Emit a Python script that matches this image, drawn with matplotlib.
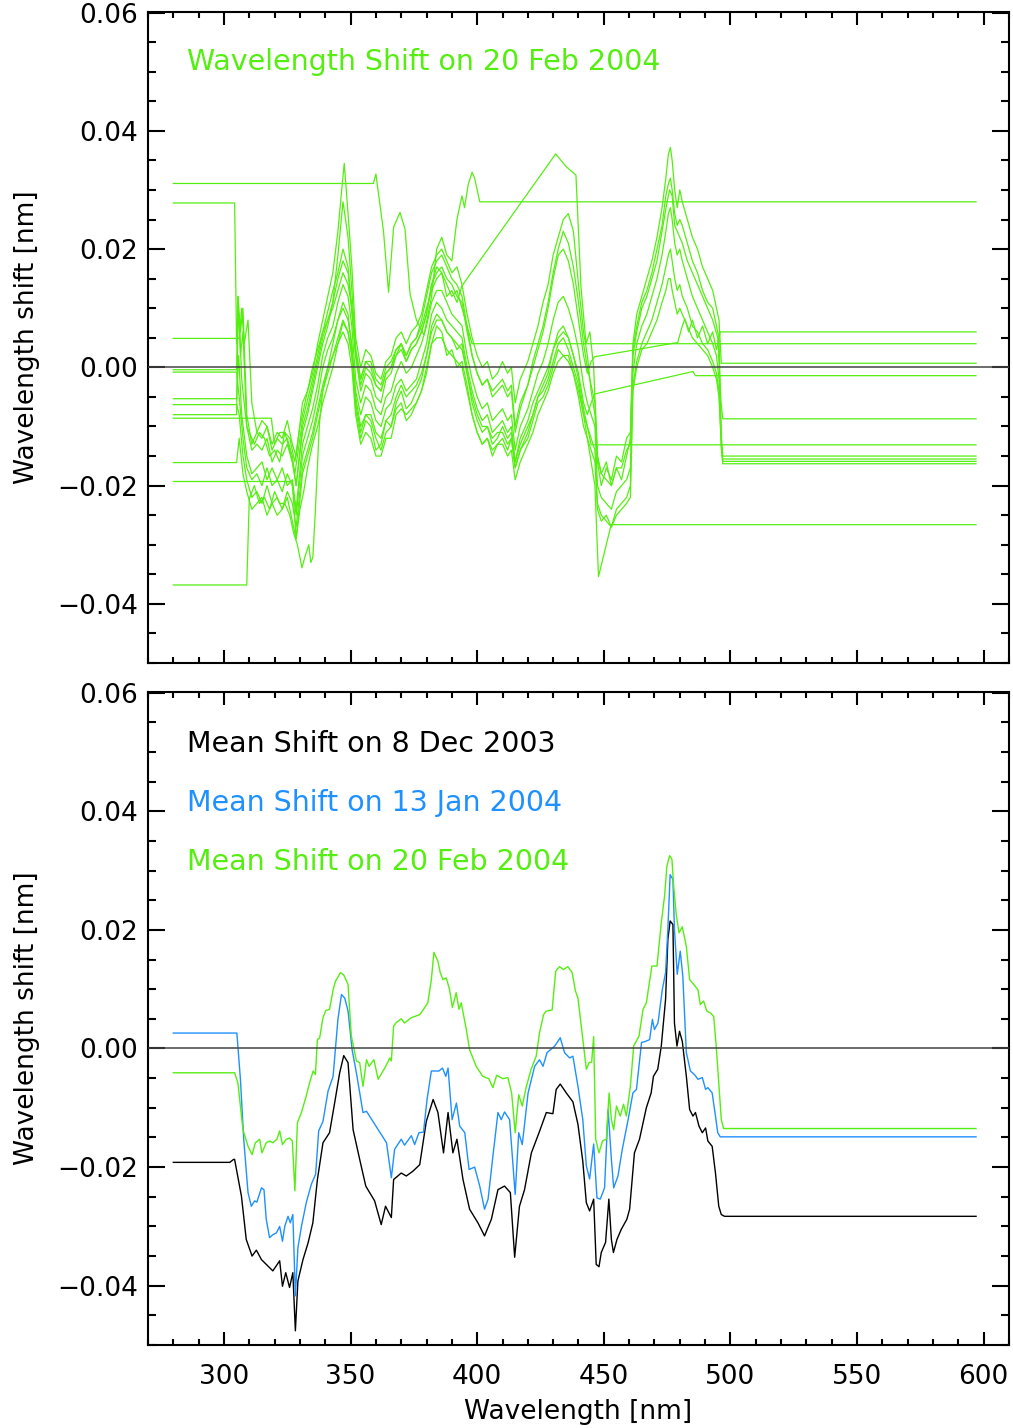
import matplotlib
matplotlib.use("Agg")
import matplotlib.pyplot as plt
from matplotlib.ticker import MultipleLocator, FuncFormatter

GREEN = "#55ee11"
BLUE = "#1e90ff"

# individual scans of 20 Feb 2004, (wavelength nm, shift nm)
scan_a = [(280, 0.0311), (359, 0.0311), (360, 0.0327), (363, 0.0230), (365, 0.0127), (367, 0.0237), (369.5, 0.0262),
          (371.5, 0.0234), (373.5, 0.0124), (376, 0.0080), (379, 0.0055), (382, 0.0120), (384, 0.0200), (386, 0.0220),
          (388, 0.0190), (390, 0.0180), (392, 0.0250), (394, 0.0290), (395, 0.0270), (396.5, 0.0310), (398, 0.0330),
          (399, 0.0320), (401, 0.0280), (597, 0.0280)]
scan_b = [(280, 0.0278), (304.2, 0.0278), (305, 0.0040), (306, 0.0090), (307, -0.0020), (309, -0.0100), (312, -0.0130),
          (314, -0.0110), (316, -0.0120), (318, -0.0150), (320, -0.0140), (322, -0.0160), (324, -0.0110), (326, -0.0140),
          (328, -0.0180), (331, -0.0090), (335, -0.0020), (339, 0.0060), (343, 0.0130), (345, 0.0160), (347, 0.0200),
          (349, 0.0170), (350, 0.0120), (352, 0.0020), (354, -0.0040), (356, -0.0010), (358, -0.0020), (360, -0.0050),
          (362, -0.0060), (364, -0.0020), (366, -0.0010), (368, 0.0020), (370, 0.0040), (372, 0.0010), (374, 0.0030),
          (376, 0.0040), (378, 0.0060), (380, 0.0090), (382, 0.0140), (384, 0.0170), (386, 0.0160), (388, 0.0120),
          (390, 0.0130), (392, 0.0110), (394, 0.0138), (431, 0.0361), (435, 0.0340), (439, 0.0325), (441, 0.0135),
          (443, 0.0040), (444.5, 0.0060), (446, 0.0000), (447.5, -0.0150), (449, -0.0180), (451, -0.0160), (453, -0.0200),
          (455, -0.0170), (457, -0.0190), (459, -0.0150), (460.5, -0.0120), (461.5, 0.0020), (463, 0.0060), (465, 0.0100),
          (467, 0.0120), (469, 0.0150), (471, 0.0180), (473, 0.0230), (475, 0.0280), (476, 0.0300), (477, 0.0290),
          (478, 0.0240), (480, 0.0220), (481, 0.0210), (483, 0.0180), (485, 0.0160), (487, 0.0140), (489, 0.0120),
          (491, 0.0100), (493, 0.0080), (495, 0.0050), (496.3, -0.0060), (497, -0.0087), (597, -0.0087)]
scan_c = [(280, 0.0049), (306, 0.0049), (307, 0.0100), (308, 0.0040), (309.5, 0.0080), (311, -0.0060), (313, -0.0110),
          (315, -0.0090), (317, -0.0100), (319, -0.0130), (321, -0.0110), (323, -0.0120), (325, -0.0090), (327, -0.0130),
          (328.5, -0.0150), (331, -0.0060), (333, -0.0040), (335, 0.0000), (337, 0.0030), (339, 0.0060), (341, 0.0080),
          (343, 0.0100), (345, 0.0130), (347, 0.0160), (349, 0.0140), (350.5, 0.0100), (352, 0.0030), (354, -0.0020),
          (356, 0.0010), (358, 0.0010), (360, -0.0020), (362, -0.0030), (364, 0.0000), (366, 0.0010), (368, 0.0030),
          (370, 0.0040), (372, 0.0020), (374, 0.0040), (376, 0.0050), (378, 0.0070), (380, 0.0100), (382, 0.0130),
          (384, 0.0150), (386, 0.0160), (388, 0.0140), (390, 0.0120), (392, 0.0130), (394, 0.0100), (396, 0.0070),
          (398, 0.0040), (401, 0.0040), (597, 0.0040)]
scan_d = [(280, -0.0193), (327, -0.0193), (328.5, -0.0290), (330, -0.0240), (331.5, -0.0210), (333, -0.0170),
          (335, -0.0130), (337, -0.0100), (339, -0.0060), (341, -0.0030), (343, 0.0000), (345, 0.0040), (347, 0.0076),
          (349, 0.0060), (350.5, 0.0020), (352, -0.0070), (354, -0.0120), (356, -0.0090), (358, -0.0100), (360, -0.0140),
          (362, -0.0130), (364, -0.0090), (366, -0.0100), (368, -0.0070), (370, -0.0060), (372, -0.0090), (374, -0.0080),
          (376, -0.0060), (378, -0.0040), (380, -0.0010), (382, 0.0040), (384, 0.0070), (386, 0.0060), (388, 0.0020),
          (390, 0.0030), (392, 0.0000), (394, 0.0010), (396, -0.0030), (398, -0.0080), (400, -0.0110), (402, -0.0130),
          (404, -0.0120), (406, -0.0150), (408, -0.0130), (410, -0.0120), (412, -0.0140), (413.5, -0.0120), (415, -0.0170),
          (417, -0.0140), (420, -0.0120), (422, -0.0090), (424, -0.0060), (426, -0.0050), (428, -0.0030), (430, 0.0000),
          (432, 0.0030), (434, 0.0020), (436, 0.0020), (438, -0.0010), (440, -0.0040), (442, -0.0080), (443.5, -0.0100),
          (445, -0.0131), (597, -0.0131)]
scan_e = [(280, -0.0004), (305, -0.0004), (305.5, 0.0120), (306.5, 0.0060), (307.5, 0.0100), (309, -0.0080),
          (311, -0.0130), (313, -0.0110), (315, -0.0120), (317, -0.0100), (319, -0.0140), (321, -0.0120), (323, -0.0130),
          (325, -0.0120), (327, -0.0150), (328.5, -0.0200), (331, -0.0100), (333, -0.0070), (335, -0.0030), (337, 0.0010),
          (339, 0.0050), (341, 0.0080), (343, 0.0110), (345, 0.0150), (347, 0.0180), (349, 0.0160), (350.5, 0.0100),
          (352, 0.0020), (354, -0.0030), (356, 0.0000), (358, -0.0010), (360, -0.0030), (362, -0.0040), (364, -0.0010),
          (366, 0.0000), (368, 0.0020), (370, 0.0030), (372, 0.0010), (374, 0.0030), (376, 0.0040), (378, 0.0060),
          (380, 0.0090), (382, 0.0140), (384, 0.0160), (386, 0.0170), (388, 0.0150), (390, 0.0140), (392, 0.0120),
          (394, 0.0110), (396, 0.0060), (398, 0.0020), (400, -0.0010), (402, -0.0030), (404, -0.0020), (406, -0.0040),
          (408, -0.0030), (410, -0.0020), (412, -0.0040), (413.5, -0.0030), (415, -0.0100), (417, -0.0060), (420, -0.0030),
          (422, 0.0000), (424, 0.0030), (426, 0.0060), (428, 0.0100), (430, 0.0150), (432, 0.0190), (434, 0.0200),
          (436, 0.0180), (438, 0.0140), (440, 0.0080), (442, 0.0020), (443.5, -0.0010), (445, 0.0010), (446.4, 0.0018),
          (479.2, 0.0042), (481, 0.0070), (482, 0.0082), (483.5, 0.0060), (485, 0.0080), (487, 0.0050), (489, 0.0070),
          (491, 0.0040), (493, 0.0060), (494.5, 0.0030), (496, 0.0060), (597, 0.0060)]
scan_f = [(280, -0.0008), (305, -0.0008), (306, -0.0050), (307.5, -0.0120), (309, -0.0170), (311, -0.0190),
          (313, -0.0180), (315, -0.0200), (317, -0.0170), (319, -0.0200), (321, -0.0190), (323, -0.0210), (325, -0.0180),
          (327, -0.0200), (328.5, -0.0250), (331, -0.0150), (333, -0.0120), (335, -0.0090), (337, -0.0050), (339, 0.0000),
          (341, 0.0030), (343, 0.0050), (345, 0.0080), (347, 0.0110), (349, 0.0090), (350.5, 0.0030), (352, -0.0040),
          (354, -0.0080), (356, -0.0050), (358, -0.0060), (360, -0.0090), (362, -0.0100), (364, -0.0070), (366, -0.0060),
          (368, -0.0030), (370, -0.0020), (372, -0.0040), (374, -0.0030), (376, -0.0020), (378, 0.0010), (380, 0.0040),
          (382, 0.0090), (384, 0.0110), (386, 0.0100), (388, 0.0080), (390, 0.0070), (392, 0.0060), (394, 0.0050),
          (396, 0.0000), (398, -0.0040), (400, -0.0070), (402, -0.0090), (404, -0.0080), (406, -0.0110), (408, -0.0100),
          (410, -0.0090), (412, -0.0110), (413.5, -0.0100), (415, -0.0160), (417, -0.0120), (420, -0.0090), (422, -0.0060),
          (424, -0.0040), (426, -0.0020), (428, 0.0000), (430, 0.0030), (432, 0.0060), (434, 0.0070), (436, 0.0050),
          (438, 0.0020), (440, -0.0010), (442, -0.0060), (443.5, -0.0080), (445, -0.0060), (446.4, -0.0045),
          (485.2, -0.0007), (486.2, -0.0014), (597, -0.0014)]
scan_g = [(280, -0.0368), (309, -0.0368), (310, -0.0222), (312, -0.0200), (314, -0.0230), (316, -0.0220), (318, -0.0240),
          (320, -0.0210), (322, -0.0230), (324, -0.0230), (326, -0.0250), (327.5, -0.0280), (329, -0.0300),
          (330.8, -0.0339), (332, -0.0320), (333.5, -0.0300), (334.3, -0.0330), (335.1, -0.0321), (336, -0.0250),
          (337.7, -0.0095), (339, -0.0040), (341, 0.0000), (343, 0.0040), (345, 0.0080), (347, 0.0100), (349, 0.0080),
          (350.5, 0.0040), (352, -0.0050), (354, -0.0100), (356, -0.0080), (358, -0.0090), (360, -0.0120), (362, -0.0140),
          (364, -0.0110), (366, -0.0100), (368, -0.0060), (370, -0.0040), (372, -0.0070), (374, -0.0060), (376, -0.0040),
          (378, -0.0020), (380, 0.0020), (382, 0.0070), (384, 0.0090), (386, 0.0080), (388, 0.0060), (390, 0.0050),
          (392, 0.0030), (394, 0.0040), (396, -0.0010), (398, -0.0060), (400, -0.0090), (402, -0.0110), (404, -0.0100),
          (406, -0.0130), (408, -0.0120), (410, -0.0100), (412, -0.0120), (413.5, -0.0110), (415, -0.0160), (417, -0.0130),
          (420, -0.0100), (422, -0.0080), (424, -0.0050), (426, -0.0040), (428, -0.0020), (430, 0.0010), (432, 0.0040),
          (434, 0.0050), (436, 0.0030), (438, 0.0000), (440, -0.0030), (442, -0.0080), (443.5, -0.0120), (445, -0.0160),
          (446.5, -0.0200), (447.9, -0.0354), (452.9, -0.0266), (597, -0.0266)]
scan_h = [(280, -0.0086), (318.7, -0.0086), (320, -0.0130), (322, -0.0110), (324, -0.0110), (326, -0.0120),
          (328, -0.0160), (330, -0.0100), (331.5, -0.0070), (333, -0.0040), (335, -0.0010), (337, 0.0040), (339, 0.0080),
          (341, 0.0120), (343, 0.0160), (345, 0.0230), (346.5, 0.0300), (347.5, 0.0345), (349, 0.0260), (350.5, 0.0170),
          (352, 0.0050), (354, 0.0000), (356, 0.0030), (358, 0.0020), (360, -0.0010), (362, -0.0020), (364, 0.0010),
          (366, 0.0020), (368, 0.0050), (370, 0.0060), (372, 0.0040), (374, 0.0060), (376, 0.0070), (378, 0.0090),
          (380, 0.0130), (382, 0.0170), (384, 0.0190), (386, 0.0200), (388, 0.0180), (390, 0.0160), (392, 0.0170),
          (394, 0.0140), (396, 0.0090), (398, 0.0050), (400, 0.0020), (402, 0.0000), (404, 0.0010), (406, -0.0020),
          (408, -0.0010), (410, 0.0010), (412, -0.0010), (413.5, 0.0000), (415, -0.0060), (417, -0.0020), (420, 0.0010),
          (422, 0.0040), (424, 0.0070), (426, 0.0110), (428, 0.0140), (430, 0.0190), (432, 0.0220), (434, 0.0250),
          (436, 0.0260), (438, 0.0230), (440, 0.0140), (442, 0.0060), (443.5, 0.0020), (445, -0.0040), (446.5, -0.0080),
          (447.5, -0.0160), (449, -0.0200), (451, -0.0170), (453, -0.0190), (455, -0.0150), (457, -0.0160), (459, -0.0120),
          (460.5, -0.0110), (461.5, 0.0040), (463, 0.0090), (465, 0.0120), (467, 0.0150), (469, 0.0180), (471, 0.0220),
          (473, 0.0270), (474.5, 0.0320), (475.5, 0.0360), (476.3, 0.0372), (477, 0.0350), (478, 0.0300), (479, 0.0270),
          (480, 0.0300), (481, 0.0280), (483, 0.0250), (485, 0.0220), (487, 0.0200), (489, 0.0170), (491, 0.0150),
          (493, 0.0130), (494.5, 0.0100), (495.5, 0.0080), (496.4, 0.0007), (597, 0.0007)]
scan_i = [(280, -0.0053), (305, -0.0053), (305.8, 0.0020), (307, -0.0080), (309, -0.0150), (311, -0.0180),
          (313, -0.0170), (315, -0.0160), (317, -0.0190), (319, -0.0170), (321, -0.0190), (323, -0.0170), (325, -0.0200),
          (327, -0.0190), (328.5, -0.0240), (331, -0.0130), (333, -0.0100), (335, -0.0070), (337, -0.0030), (339, 0.0020),
          (341, 0.0050), (343, 0.0070), (345, 0.0110), (347, 0.0140), (349, 0.0120), (350.5, 0.0070), (352, -0.0020),
          (354, -0.0060), (356, -0.0030), (358, -0.0040), (360, -0.0070), (362, -0.0080), (364, -0.0050), (366, -0.0040),
          (368, -0.0010), (370, 0.0010), (372, -0.0010), (374, 0.0000), (376, 0.0020), (378, 0.0040), (380, 0.0070),
          (382, 0.0110), (384, 0.0130), (386, 0.0130), (388, 0.0110), (390, 0.0090), (392, 0.0080), (394, 0.0070),
          (396, 0.0020), (398, -0.0020), (400, -0.0050), (402, -0.0070), (404, -0.0060), (406, -0.0090), (408, -0.0080),
          (410, -0.0070), (412, -0.0090), (413.5, -0.0080), (415, -0.0140), (417, -0.0100), (420, -0.0070), (422, -0.0040),
          (424, -0.0010), (426, 0.0010), (428, 0.0040), (430, 0.0080), (432, 0.0110), (434, 0.0120), (436, 0.0100),
          (438, 0.0070), (440, 0.0030), (442, -0.0030), (443.5, -0.0060), (445, -0.0080), (446.5, -0.0100),
          (447.5, -0.0200), (449, -0.0220), (451, -0.0230), (453, -0.0240), (455, -0.0210), (457, -0.0200), (459, -0.0190),
          (460.5, -0.0170), (461.5, -0.0010), (463, 0.0040), (465, 0.0070), (467, 0.0090), (469, 0.0120), (471, 0.0150),
          (473, 0.0190), (474.5, 0.0230), (475.5, 0.0260), (476.3, 0.0270), (477, 0.0250), (478, 0.0210), (479, 0.0190),
          (480, 0.0200), (481, 0.0180), (483, 0.0150), (485, 0.0120), (487, 0.0100), (489, 0.0080), (491, 0.0060),
          (493, 0.0040), (494.5, 0.0020), (495.5, -0.0020), (496.5, -0.0120), (497, -0.0150), (597, -0.0150)]
scan_j = [(280, -0.0063), (305, -0.0063), (306, -0.0080), (307.5, -0.0150), (309, -0.0190), (311, -0.0220),
          (313, -0.0210), (315, -0.0230), (317, -0.0200), (319, -0.0230), (321, -0.0220), (323, -0.0240), (325, -0.0210),
          (327, -0.0230), (328.5, -0.0270), (331, -0.0170), (333, -0.0140), (335, -0.0110), (337, -0.0070), (339, -0.0030),
          (341, 0.0000), (343, 0.0020), (345, 0.0050), (347, 0.0080), (349, 0.0060), (350.5, 0.0020), (352, -0.0060),
          (354, -0.0110), (356, -0.0080), (358, -0.0080), (360, -0.0110), (362, -0.0120), (364, -0.0090), (366, -0.0080),
          (368, -0.0050), (370, -0.0030), (372, -0.0050), (374, -0.0040), (376, -0.0030), (378, -0.0010), (380, 0.0020),
          (382, 0.0060), (384, 0.0080), (386, 0.0080), (388, 0.0060), (390, 0.0050), (392, 0.0040), (394, 0.0030),
          (396, -0.0010), (398, -0.0050), (400, -0.0080), (402, -0.0100), (404, -0.0100), (406, -0.0120), (408, -0.0110),
          (410, -0.0110), (412, -0.0130), (413.5, -0.0120), (415, -0.0170), (417, -0.0140), (420, -0.0110), (422, -0.0080),
          (424, -0.0050), (426, -0.0030), (428, -0.0010), (430, 0.0030), (432, 0.0050), (434, 0.0060), (436, 0.0050),
          (438, 0.0020), (440, -0.0020), (442, -0.0070), (443.5, -0.0100), (445, -0.0120), (446.5, -0.0140),
          (447.5, -0.0230), (449, -0.0250), (451, -0.0260), (453, -0.0270), (455, -0.0240), (457, -0.0230), (459, -0.0220),
          (460.5, -0.0200), (461.5, -0.0030), (463, 0.0010), (465, 0.0040), (467, 0.0060), (469, 0.0080), (471, 0.0110),
          (473, 0.0140), (474.5, 0.0170), (475.5, 0.0190), (476.3, 0.0200), (477, 0.0180), (478, 0.0150), (479, 0.0130),
          (480, 0.0140), (481, 0.0120), (483, 0.0100), (485, 0.0070), (487, 0.0060), (489, 0.0040), (491, 0.0030),
          (493, 0.0010), (494.5, -0.0010), (495.5, -0.0040), (496.5, -0.0140), (497, -0.0159), (597, -0.0159)]
scan_k = [(280, -0.0080), (305, -0.0080), (305.6, 0.0120), (306.5, 0.0020), (307.5, 0.0060), (309, -0.0100),
          (311, -0.0140), (313, -0.0130), (315, -0.0140), (317, -0.0120), (319, -0.0160), (321, -0.0140), (323, -0.0150),
          (325, -0.0130), (327, -0.0160), (328.5, -0.0200), (331, -0.0110), (333, -0.0080), (335, -0.0040), (337, 0.0000),
          (339, 0.0040), (341, 0.0070), (343, 0.0110), (345, 0.0190), (347, 0.0280), (349, 0.0220), (350.5, 0.0130),
          (352, 0.0030), (354, -0.0020), (356, 0.0010), (358, 0.0000), (360, -0.0030), (362, -0.0040), (364, -0.0010),
          (366, 0.0000), (368, 0.0030), (370, 0.0040), (372, 0.0020), (374, 0.0040), (376, 0.0050), (378, 0.0080),
          (380, 0.0120), (382, 0.0160), (384, 0.0180), (386, 0.0190), (388, 0.0170), (390, 0.0150), (392, 0.0140),
          (394, 0.0120), (396, 0.0070), (398, 0.0020), (400, -0.0010), (402, -0.0030), (404, -0.0020), (406, -0.0050),
          (408, -0.0040), (410, -0.0030), (412, -0.0050), (413.5, -0.0040), (415, -0.0110), (417, -0.0070), (420, -0.0030),
          (422, 0.0010), (424, 0.0040), (426, 0.0070), (428, 0.0110), (430, 0.0160), (432, 0.0200), (434, 0.0230),
          (436, 0.0210), (438, 0.0170), (440, 0.0110), (442, 0.0040), (443.5, 0.0000), (445, -0.0030), (446.5, -0.0060),
          (447.5, -0.0150), (449, -0.0180), (451, -0.0190), (453, -0.0200), (455, -0.0170), (457, -0.0170), (459, -0.0140),
          (460.5, -0.0130), (461.5, 0.0030), (463, 0.0070), (465, 0.0110), (467, 0.0130), (469, 0.0160), (471, 0.0200),
          (473, 0.0240), (474.5, 0.0290), (475.5, 0.0310), (476.3, 0.0320), (477, 0.0300), (478, 0.0260), (479, 0.0240),
          (480, 0.0250), (481, 0.0240), (483, 0.0210), (485, 0.0180), (487, 0.0160), (489, 0.0130), (491, 0.0110),
          (493, 0.0100), (494.5, 0.0070), (495.5, 0.0050), (496.5, -0.0140), (497, -0.0163), (597, -0.0163)]
scan_l = [(280, -0.0161), (305, -0.0161), (306, -0.0120), (307.5, -0.0180), (309, -0.0210), (311, -0.0240),
          (313, -0.0230), (315, -0.0220), (317, -0.0250), (319, -0.0230), (321, -0.0250), (323, -0.0240), (325, -0.0220),
          (327, -0.0260), (328.5, -0.0290), (331, -0.0180), (333, -0.0150), (335, -0.0120), (337, -0.0080), (339, -0.0040),
          (341, -0.0010), (343, 0.0020), (345, 0.0040), (347, 0.0060), (349, 0.0040), (350.5, 0.0000), (352, -0.0080),
          (354, -0.0130), (356, -0.0110), (358, -0.0120), (360, -0.0150), (362, -0.0150), (364, -0.0120), (366, -0.0120),
          (368, -0.0080), (370, -0.0070), (372, -0.0080), (374, -0.0070), (376, -0.0060), (378, -0.0040), (380, 0.0000),
          (382, 0.0040), (384, 0.0050), (386, 0.0050), (388, 0.0030), (390, 0.0020), (392, 0.0010), (394, 0.0000),
          (396, -0.0040), (398, -0.0080), (400, -0.0110), (402, -0.0130), (404, -0.0120), (406, -0.0140), (408, -0.0130),
          (410, -0.0130), (412, -0.0150), (413.5, -0.0140), (415, -0.0190), (417, -0.0160), (420, -0.0130), (422, -0.0110),
          (424, -0.0080), (426, -0.0060), (428, -0.0040), (430, -0.0010), (432, 0.0010), (434, 0.0020), (436, 0.0010),
          (438, -0.0010), (440, -0.0050), (442, -0.0100), (443.5, -0.0120), (445, -0.0140), (446.5, -0.0160),
          (447.5, -0.0240), (449, -0.0260), (451, -0.0250), (453, -0.0270), (455, -0.0250), (457, -0.0240), (459, -0.0230),
          (460.5, -0.0220), (461.5, -0.0040), (463, 0.0000), (465, 0.0030), (467, 0.0040), (469, 0.0060), (471, 0.0080),
          (473, 0.0110), (474.5, 0.0130), (475.5, 0.0150), (476.3, 0.0150), (477, 0.0130), (478, 0.0110), (479, 0.0090),
          (480, 0.0100), (481, 0.0090), (483, 0.0070), (485, 0.0050), (487, 0.0040), (489, 0.0030), (491, 0.0020),
          (493, 0.0000), (494.5, -0.0020), (495.5, -0.0050), (496.5, -0.0140), (497, -0.0155), (597, -0.0155)]
feb_scans = [scan_a, scan_b, scan_c, scan_d, scan_e, scan_f, scan_g, scan_h, scan_i, scan_j, scan_k, scan_l]

# mean shift, 8 Dec 2003
dec_wl = [280, 302.3, 303.8, 304.2, 306.9, 308.8, 311.1, 312.8, 314.8, 316.7, 319.3, 322.0, 323.1, 324.4, 325.9, 327.2,
          328.2, 329.2, 331.2, 333.2, 335.1, 336.9, 339.1, 341.7, 343.7, 345.7, 347.3, 349.0, 351.0, 353.6, 356.0, 359.5,
          362.1, 363.8, 366.1, 367.0, 370.0, 372.0, 374.6, 377.3, 379.9, 382.6, 384.5, 386.7, 388.5, 390.4, 392.0, 394.4,
          397.0, 400.3, 402.9, 405.6, 408.2, 410.8, 413.1, 414.8, 416.7, 418.7, 421.4, 424.6, 427.3, 429.9, 431.2, 432.8,
          435.2, 437.8, 439.8, 441.7, 443.1, 444.4, 446.0, 447.0, 448.1, 449.0, 450.7, 452.0, 453.0, 453.8, 455.2, 456.9,
          459.1, 460.2, 462.1, 464.1, 466.8, 468.7, 469.6, 471.3, 472.7, 474.4, 475.3, 476.2, 477.3, 477.9, 478.9, 479.9,
          481.0, 482.6, 483.9, 485.2, 486.2, 487.6, 488.9, 490.2, 491.1, 492.8, 494.1, 495.4, 496.4, 497.7, 597]
dec_shift = [-0.0192, -0.0192, -0.0187, -0.0187, -0.0249, -0.0322, -0.0350, -0.0340, -0.0356, -0.0364, -0.0375, -0.0358,
             -0.0401, -0.0378, -0.0403, -0.0378, -0.0476, -0.0392, -0.0356, -0.0328, -0.0294, -0.0221, -0.0159, -0.0142,
             -0.0092, -0.0041, -0.0012, -0.0024, -0.0137, -0.0187, -0.0232, -0.0257, -0.0297, -0.0266, -0.0285, -0.0221,
             -0.0210, -0.0215, -0.0207, -0.0196, -0.0123, -0.0086, -0.0108, -0.0176, -0.0108, -0.0176, -0.0153, -0.0221,
             -0.0271, -0.0294, -0.0316, -0.0288, -0.0238, -0.0232, -0.0243, -0.0352, -0.0266, -0.0238, -0.0176, -0.0140,
             -0.0108, -0.0110, -0.0069, -0.0060, -0.0075, -0.0090, -0.0128, -0.0190, -0.0260, -0.0274, -0.0254, -0.0364,
             -0.0368, -0.0344, -0.0327, -0.0254, -0.0322, -0.0344, -0.0322, -0.0305, -0.0288, -0.0271, -0.0176, -0.0153,
             -0.0100, -0.0075, -0.0047, -0.0035, 0.0004, 0.0083, 0.0184, 0.0215, 0.0209, 0.0043, 0.0004, 0.0029, 0.0012,
             -0.0047, -0.0103, -0.0114, -0.0108, -0.0131, -0.0142, -0.0134, -0.0156, -0.0165, -0.0210, -0.0266, -0.0280,
             -0.0283, -0.0283]

# mean shift, 13 Jan 2004
jan_wl = [280, 305.1, 306.5, 307.8, 309.5, 310.8, 312.1, 313.0, 314.8, 315.8, 316.7, 318.0, 319.3, 320.7, 322.0, 323.1,
          324.0, 325.3, 326.2, 327.2, 328.2, 329.2, 330.6, 332.5, 334.5, 336.2, 337.4, 339.1, 341.1, 343.1, 345.0, 346.4,
          347.7, 349.0, 350.6, 352.3, 354.9, 356.3, 364.2, 366.1, 367.4, 370.0, 371.3, 374.0, 375.3, 377.0, 378.8, 380.2,
          381.9, 384.9, 386.3, 387.6, 388.5, 390.1, 391.8, 393.1, 395.1, 396.8, 399.0, 401.0, 402.9, 404.3, 406.2, 408.2,
          409.5, 410.8, 412.8, 415.0, 416.4, 417.8, 420.1, 422.7, 424.6, 426.0, 427.6, 430.6, 432.8, 434.5, 436.5, 437.8,
          439.8, 441.7, 443.1, 444.4, 446.0, 447.3, 448.6, 450.3, 451.7, 453.0, 453.9, 455.6, 457.3, 459.6, 461.5, 462.9,
          464.9, 466.5, 468.1, 469.2, 470.0, 471.4, 473.1, 474.4, 475.3, 476.2, 477.3, 477.9, 479.0, 480.2, 481.2, 482.6,
          484.2, 485.8, 487.2, 488.9, 490.2, 491.1, 492.8, 494.1, 495.0, 496.0, 597]
jan_shift = [0.0026, 0.0026, -0.0052, -0.0153, -0.0243, -0.0266, -0.0257, -0.0259, -0.0235, -0.0238, -0.0288, -0.0319,
             -0.0314, -0.0311, -0.0300, -0.0325, -0.0300, -0.0283, -0.0294, -0.0280, -0.0417, -0.0336, -0.0300, -0.0260,
             -0.0229, -0.0212, -0.0139, -0.0123, -0.0072, -0.0047, 0.0049, 0.0091, 0.0085, 0.0063, -0.0002, -0.0041,
             -0.0108, -0.0106, -0.0159, -0.0218, -0.0170, -0.0153, -0.0163, -0.0147, -0.0162, -0.0142, -0.0141, -0.0086,
             -0.0038, -0.0038, -0.0033, -0.0047, -0.0033, -0.0120, -0.0092, -0.0131, -0.0142, -0.0204, -0.0200, -0.0232,
             -0.0271, -0.0254, -0.0182, -0.0108, -0.0120, -0.0107, -0.0120, -0.0246, -0.0142, -0.0162, -0.0075, -0.0030,
             -0.0019, -0.0030, -0.0007, 0.0004, 0.0018, -0.0007, -0.0016, -0.0013, -0.0064, -0.0120, -0.0198, -0.0220,
             -0.0161, -0.0252, -0.0254, -0.0235, -0.0103, -0.0187, -0.0235, -0.0215, -0.0170, -0.0120, -0.0075, -0.0069,
             0.0010, 0.0012, 0.0015, 0.0049, 0.0032, 0.0043, 0.0099, 0.0128, 0.0201, 0.0293, 0.0285, 0.0201, 0.0125,
             0.0164, 0.0122, -0.0007, -0.0038, -0.0044, -0.0052, -0.0049, -0.0069, -0.0066, -0.0075, -0.0114, -0.0142,
             -0.0149, -0.0149]

# mean shift, 20 Feb 2004
feb_wl = [280, 304.2, 305.5, 307.5, 309.5, 311.1, 312.4, 314.1, 315.0, 316.7, 318.0, 319.3, 320.9, 322.0, 323.1, 324.6,
          325.9, 327.0, 328.0, 329.0, 330.6, 332.5, 333.8, 335.2, 336.1, 336.9, 337.8, 339.1, 340.2, 341.7, 343.1, 344.0,
          346.0, 347.3, 349.0, 350.3, 352.3, 353.6, 354.9, 356.3, 357.3, 359.2, 360.9, 363.5, 365.5, 366.1, 367.0, 368.1,
          370.0, 371.3, 374.0, 377.3, 378.8, 380.5, 381.9, 382.9, 384.5, 385.4, 386.5, 387.8, 389.1, 390.2, 391.7, 392.8,
          393.7, 395.7, 397.0, 399.6, 402.2, 404.6, 406.2, 407.7, 410.1, 412.1, 413.6, 415.0, 416.4, 417.8, 419.3, 421.3,
          423.3, 424.6, 426.2, 427.3, 429.6, 431.0, 432.5, 434.1, 435.8, 437.5, 438.8, 439.8, 441.1, 442.2, 443.1, 444.2,
          445.2, 446.0, 446.8, 448.1, 449.5, 451.0, 452.1, 453.0, 453.9, 455.0, 456.5, 457.8, 458.9, 460.5, 461.8, 463.9,
          465.5, 466.8, 469.0, 471.0, 472.7, 474.0, 474.9, 476.0, 476.9, 477.6, 478.6, 479.7, 481.0, 482.6, 483.9, 485.5,
          487.2, 488.1, 489.4, 490.7, 492.1, 493.4, 494.4, 495.5, 496.4, 497.3, 597]
feb_shift = [-0.0041, -0.0041, -0.0058, -0.0137, -0.0165, -0.0179, -0.0159, -0.0153, -0.0176, -0.0159, -0.0156, -0.0159,
             -0.0153, -0.0139, -0.0162, -0.0153, -0.0151, -0.0156, -0.0240, -0.0125, -0.0108, -0.0080, -0.0058, -0.0038,
             -0.0044, 0.0015, 0.0018, 0.0052, 0.0064, 0.0066, 0.0099, 0.0113, 0.0128, 0.0124, 0.0108, 0.0021, -0.0021,
             -0.0024, -0.0064, -0.0019, -0.0030, -0.0019, -0.0052, -0.0033, -0.0016, -0.0021, 0.0038, 0.0044, 0.0050,
             0.0043, 0.0052, 0.0057, 0.0066, 0.0077, 0.0116, 0.0162, 0.0147, 0.0128, 0.0116, 0.0119, 0.0099, 0.0069,
             0.0094, 0.0066, 0.0077, 0.0032, -0.0002, -0.0030, -0.0047, -0.0051, -0.0066, -0.0045, -0.0051, -0.0049,
             -0.0075, -0.0142, -0.0078, -0.0097, -0.0066, -0.0035, -0.0013, 0.0026, 0.0057, 0.0063, 0.0065, 0.0130,
             0.0138, 0.0133, 0.0138, 0.0128, 0.0097, 0.0085, 0.0038, -0.0002, -0.0035, -0.0024, -0.0023, 0.0020, -0.0153,
             -0.0176, -0.0156, -0.0153, -0.0075, -0.0120, -0.0137, -0.0097, -0.0114, -0.0094, -0.0114, -0.0064, 0.0004,
             0.0021, 0.0066, 0.0077, 0.0139, 0.0139, 0.0212, 0.0257, 0.0307, 0.0325, 0.0319, 0.0274, 0.0226, 0.0195,
             0.0205, 0.0172, 0.0116, 0.0108, 0.0099, 0.0074, 0.0080, 0.0063, 0.0060, 0.0054, 0.0004, -0.0064, -0.0120,
             -0.0135, -0.0135]

mean_labels = ["Mean Shift on 8 Dec 2003", "Mean Shift on 13 Jan 2004", "Mean Shift on 20 Feb 2004"]
mean_colors = ["black", BLUE, GREEN]

plt.rcParams["font.family"] = ["DejaVu Sans"]
FS = 19
NOTE_FS = 20.5


def fmt_shift(v, pos):
    return ("%.2f" % v).replace("-", "\u2212")


def style_axes(ax, xlabels):
    ax.set_xlim(270, 610)
    ax.set_ylim(-0.05, 0.0601)
    ax.xaxis.set_major_locator(MultipleLocator(50))
    ax.xaxis.set_minor_locator(MultipleLocator(10))
    ax.yaxis.set_major_locator(MultipleLocator(0.02))
    ax.yaxis.set_minor_locator(MultipleLocator(0.005))
    ax.yaxis.set_major_formatter(FuncFormatter(fmt_shift))
    ax.tick_params(which="both", direction="in", top=True, right=True, width=1.5, labelsize=FS)
    ax.tick_params(axis="x", which="major", length=9.5, pad=14, labelbottom=xlabels)
    ax.tick_params(axis="x", which="minor", length=4.5)
    ax.tick_params(axis="y", which="major", length=12.5, pad=7)
    ax.tick_params(axis="y", which="minor", length=6)
    for sp in ax.spines.values():
        sp.set_linewidth(1.5)
    ax.axhline(0, color="#444444", lw=1.1, zorder=5)
    ax.set_ylabel("Wavelength shift [nm]", fontsize=FS)
    ax.yaxis.set_label_coords(-0.125, 0.5)


fig = plt.figure(figsize=(10.13, 14.28), dpi=100)
ax1 = fig.add_axes([0.1461, 0.5357, 0.8499, 0.4559])
ax2 = fig.add_axes([0.1461, 0.0581, 0.8499, 0.4573])

for scan in feb_scans:
    wl, sh = zip(*scan)
    ax1.plot(wl, sh, color=GREEN, lw=0.9)
style_axes(ax1, False)
ax1.text(0.0453, 0.923, "Wavelength Shift on 20 Feb 2004", transform=ax1.transAxes,
         color=GREEN, fontsize=NOTE_FS, va="center", ha="left")

for wl, sh, c in zip([dec_wl, jan_wl, feb_wl], [dec_shift, jan_shift, feb_shift], mean_colors):
    ax2.plot(wl, sh, color=c, lw=1.0)
style_axes(ax2, True)
for lab, c, yy in zip(mean_labels, mean_colors, [0.920, 0.830, 0.740]):
    ax2.text(0.0453, yy, lab, transform=ax2.transAxes, color=c, fontsize=NOTE_FS, va="center", ha="left")
ax2.set_xlabel("Wavelength [nm]", fontsize=FS)
ax2.xaxis.set_label_coords(0.5, -0.083)

fig.savefig("out.png", dpi=100)
